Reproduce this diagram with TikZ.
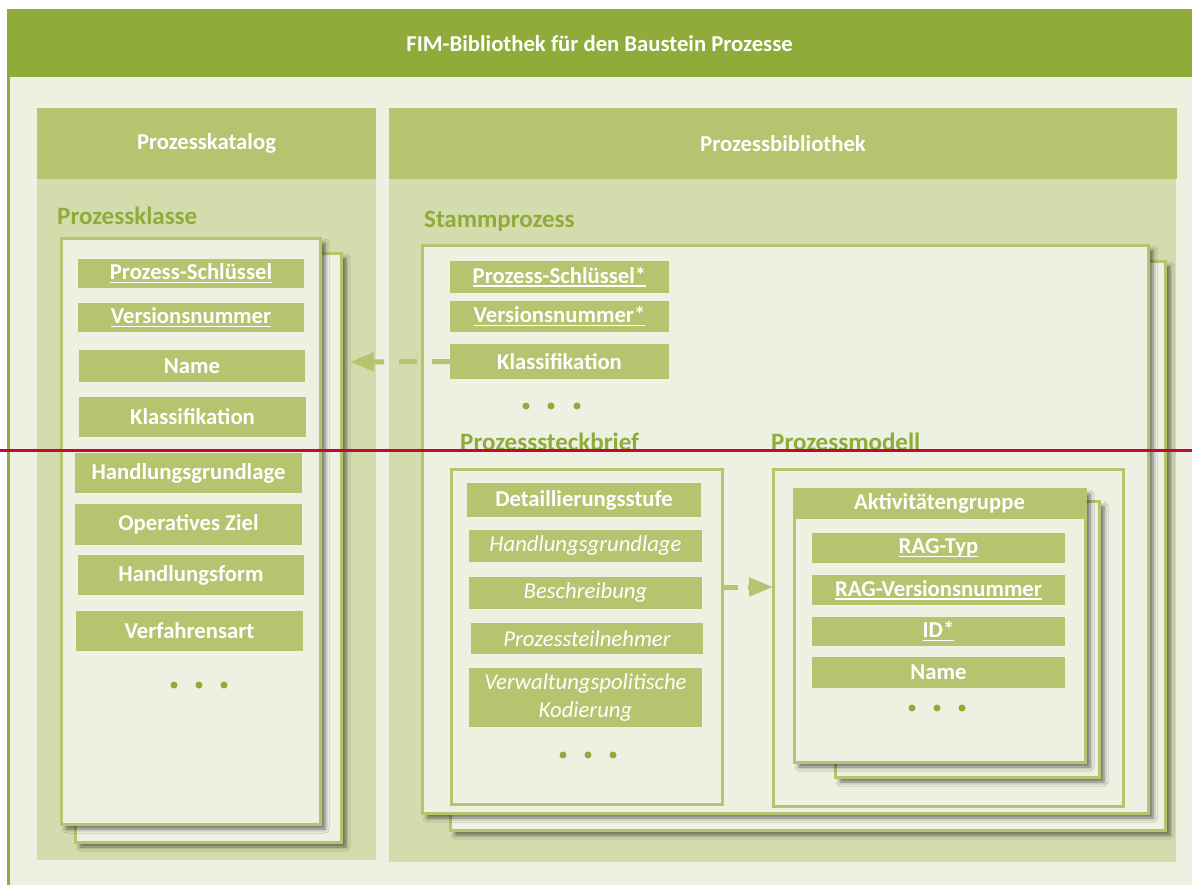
\documentclass[tikz,border=0pt]{standalone}
\usepackage{fontspec}
\setmainfont{Carlito}
\usetikzlibrary{shadows,shadows.blur,arrows.meta}
\definecolor{dgreen}{HTML}{8FAB3A}
\definecolor{mgreen}{HTML}{B5C46F}
\definecolor{pbody}{HTML}{D4DCAE}
\definecolor{bgc}{HTML}{EEF0E1}
\definecolor{redl}{HTML}{C00A35}
\newcommand\myul[1]{\setbox0\hbox{#1}\rlap{\rule[-3.5pt]{\wd0}{1.5pt}}\box0}
\newcommand\rn[7]{\node[#2, minimum width={#5-#3}, minimum height={#6-#4}] (#1) at ({(#3+#5)/2},{(#4+#6)/2}) {#7};}
\tikzset{
  box/.style={rectangle, inner sep=0pt, outer sep=0pt},
  itembox/.style={box, fill=mgreen, text=white, font=\fontsize{22.7}{28}\selectfont\bfseries},
  italbox/.style={box, fill=mgreen, text=white, font=\fontsize{22.7}{28.5}\selectfont\itshape, align=center},
  headbox/.style={box, fill=mgreen, text=white, font=\fontsize{22.7}{28}\selectfont\bfseries},
  bodybox/.style={box, fill=pbody},
  cardbox/.style={box, fill=bgc, draw=mgreen, line width=3pt,
     blur shadow={shadow xshift=5pt, shadow yshift=-5pt, shadow blur radius=4pt, shadow opacity=55}},
  framebox/.style={box, fill=bgc, draw=mgreen, line width=3pt},
  lbl/.style={text=dgreen, font=\fontsize{25}{30}\selectfont\bfseries, anchor=base west, inner sep=0pt},
  dotc/.style={circle, fill=dgreen, minimum size=7pt, inner sep=0pt},
  dasharrow/.style={draw=mgreen, line width=5pt, dash pattern=on 18pt off 15pt,
     -{Triangle[length=24pt, width=18pt]}},
}
\begin{document}
\begin{tikzpicture}[x=1pt, y=-1pt]
\useasboundingbox (0,0) rectangle (1192,884);
\fill[white] (0,0) rectangle (1192,884);
% outer frame
\draw[fill=bgc, draw=dgreen, line width=3pt] (8.5,10) rectangle (1210,900);
\rn{topbar}{box, fill=dgreen, text=white, font=\fontsize{22.7}{28}\selectfont\bfseries}{7}{10}{1192}{77}{FIM-Bibliothek für den Baustein Prozesse}
% Prozesskatalog panel
\rn{katbody}{bodybox}{37}{179}{376}{860}{}
\rn{kathead}{headbox}{37}{108}{376}{179}{Prozesskatalog}
% Prozessbibliothek panel
\rn{bibbody}{bodybox}{389}{179}{1176}{862}{}
\rn{bibhead}{headbox}{389}{108}{1177}{179}{Prozessbibliothek}
\node[lbl] (lklasse) at (57,224) {Prozessklasse};
\node[lbl] (lstamm) at (424,227) {Stammprozess};
% Prozessklasse cards
\rn{pkback}{cardbox}{75}{253}{341}{842}{}
\rn{pkfront}{cardbox}{61}{238}{320}{824}{}
\rn{pk1}{itembox}{78}{259}{304}{288}{\myul{Prozess-Schlüssel}}
\rn{pk2}{itembox}{78}{303}{304}{332}{\myul{Versionsnummer}}
\rn{pk3}{itembox}{79}{350}{305}{382}{Name}
\rn{pk4}{itembox}{79}{397}{306}{437}{Klassifikation}
\rn{pk5}{itembox}{75}{453}{302}{493}{Handlungsgrundlage}
\rn{pk6}{itembox}{75}{504}{302}{545}{Operatives Ziel}
\rn{pk7}{itembox}{78}{555}{304}{595}{Handlungsform}
\rn{pk8}{itembox}{76}{611}{303}{651}{Verfahrensart}
\node[dotc] (pkd1) at (174,685) {};
\node[dotc] (pkd2) at (199,685) {};
\node[dotc] (pkd3) at (224,685) {};
% Stammprozess cards
\rn{spback}{cardbox}{450}{261}{1165}{830}{}
\rn{spfront}{cardbox}{422}{245}{1148}{813}{}
\rn{sp1}{itembox}{450}{261}{669}{293}{\myul{Prozess-Schlüssel*}}
\rn{sp2}{itembox}{450}{301}{669}{332}{\myul{Versionsnummer*}}
\rn{sp3}{itembox}{450}{344}{669}{379}{Klassifikation}
\node[dotc] (spd1) at (526,406) {};
\node[dotc] (spd2) at (551,406) {};
\node[dotc] (spd3) at (577,406) {};
\coordinate (a1end) at (350,362);
\draw[dasharrow] (sp3.west) -- (a1end);
\node[lbl] (lsteck) at (460,450) {Prozesssteckbrief};
\node[lbl] (lmodell) at (771,450) {Prozessmodell};
% Steckbrief
\rn{steck}{framebox}{451}{469}{722}{804}{}
\rn{st1}{itembox}{467}{483}{701}{517}{Detaillierungsstufe}
\rn{st2}{italbox}{469}{530}{702}{562}{Handlungsgrundlage}
\rn{st3}{italbox}{469}{577}{702}{609}{Beschreibung}
\rn{st4}{italbox}{471}{623}{703}{654}{Prozessteilnehmer}
\rn{st5}{italbox}{469}{668}{702}{727}{Verwaltungspolitische\\Kodierung}
\node[dotc] (std1) at (563,755) {};
\node[dotc] (std2) at (588,755) {};
\node[dotc] (std3) at (613,755) {};
% Prozessmodell
\rn{modell}{framebox}{773}{469}{1123}{806}{}
\draw[dasharrow, dash pattern=on 16pt off 10pt] (steck.east |- 0,587) -- (modell.west |- 0,587);
% Aktivitaetengruppe
\rn{agback}{cardbox}{835}{501}{1099}{777}{}
\rn{agfront}{cardbox}{794}{489}{1085}{762}{}
\rn{aghead}{headbox}{793}{488}{1086}{519}{Aktivitätengruppe}
\rn{ag1}{itembox}{812}{533}{1065}{563}{\myul{RAG-Typ}}
\rn{ag2}{itembox}{812}{575}{1065}{605}{\myul{RAG-Versionsnummer}}
\rn{ag3}{itembox}{812}{617}{1065}{646}{\myul{ID*}}
\rn{ag4}{itembox}{812}{657}{1065}{688}{Name}
\node[dotc] (agd1) at (912,708) {};
\node[dotc] (agd2) at (937,708) {};
\node[dotc] (agd3) at (962,708) {};
% red line
\draw[redl, line width=3pt] (0,450) -- (1192,450);
\end{tikzpicture}
\end{document}
